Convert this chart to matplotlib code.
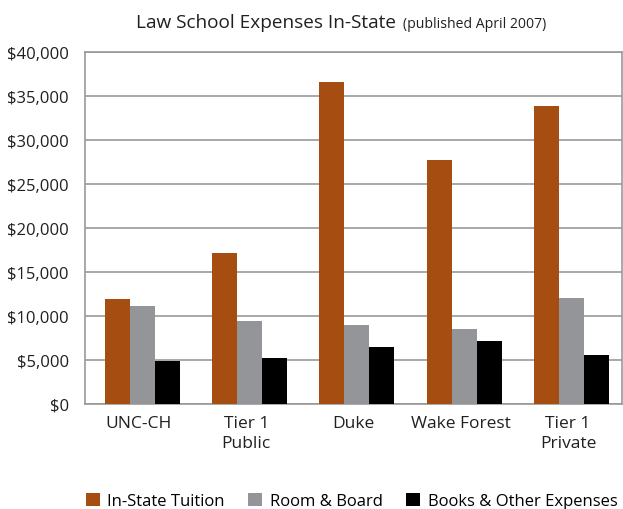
import matplotlib
matplotlib.use('Agg')
import matplotlib.pyplot as plt
import numpy as np

# Category names and expense values (US dollars)
schools = ['UNC-CH', 'Tier 1\nPublic', 'Duke', 'Wake Forest', 'Tier 1\nPrivate']
tuition = [11900, 17200, 36600, 27800, 33900]
room_board = [11100, 9400, 9000, 8500, 12000]
books_other = [4900, 5200, 6500, 7200, 5600]
series_names = ['In-State Tuition', 'Room & Board', 'Books & Other Expenses']
y_ticks = [0, 5000, 10000, 15000, 20000, 25000, 30000, 35000, 40000]

plt.rcParams['font.family'] = ['Open Sans', 'DejaVu Sans']

fig = plt.figure(figsize=(6.23, 5.10), dpi=100)
ax = fig.add_axes([0.137, 0.206, 0.861, 0.6895])

colors = ['#a64e12', '#939598', '#000000']
x = np.arange(len(schools))
width = 0.233
for i, (values, name) in enumerate(zip([tuition, room_board, books_other], series_names)):
    ax.bar(x + (i - 1) * width + 0.03, values, width, color=colors[i], label=name, zorder=3)

ax.set_xlim(-0.5, len(schools) - 0.5)
ax.set_ylim(0, 40000)
ax.set_yticks(y_ticks)
ax.set_yticklabels(['${:,}'.format(v) for v in y_ticks], fontsize=12)
ax.set_xticks(x)
ax.set_xticklabels(schools, fontsize=12.5, linespacing=1.3)
ax.tick_params(axis='both', length=0, colors='#231f20')
ax.tick_params(axis='x', pad=8)
ax.tick_params(axis='y', pad=12)
ax.yaxis.grid(True, color='#999999', linewidth=1.2, zorder=0)
for spine in ax.spines.values():
    spine.set_color('#999999')
    spine.set_linewidth(1.2)

# Title in two sizes
fig.text(136 / 623, 1 - 28.5 / 510, 'Law School Expenses In-State', fontsize=13.7,
         ha='left', va='baseline', color='#231f20')
fig.text(403 / 623, 1 - 28.5 / 510, '(published April 2007)', fontsize=10.1,
         ha='left', va='baseline', color='#231f20')

fig.legend(loc='center', bbox_to_anchor=(351.5 / 623, 1 - 502 / 510), ncol=3, frameon=False,
           fontsize=12, handlelength=0.85, handleheight=0.85, handletextpad=0.45,
           columnspacing=1.4)

plt.savefig('out.png', dpi=100)
